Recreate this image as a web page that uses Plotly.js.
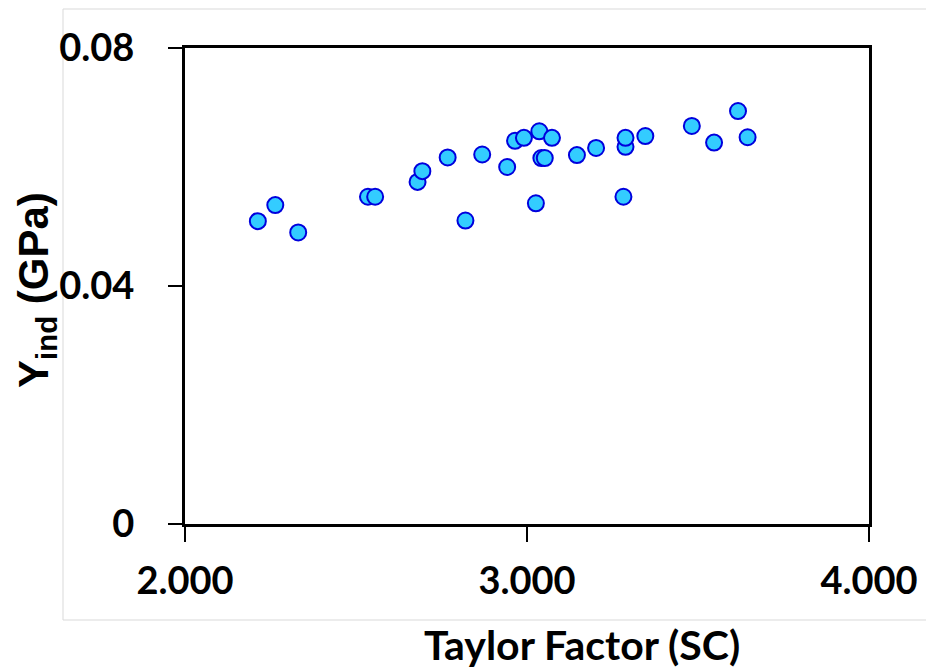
<!DOCTYPE html>
<html>
<head>
<meta charset="utf-8">
<script src="https://cdn.plot.ly/plotly-3.0.1.min.js"></script>
<style>
  html, body { margin: 0; padding: 0; background: #ffffff; }
  #chart { width: 926px; height: 671px; }
</style>
</head>
<body>
<div id="chart"></div>
<script>
// Taylor factor (single crystal) of each grain
const taylorFactor = [
  2.213, 2.264, 2.331, 2.535, 2.556, 2.680, 2.694, 2.768, 2.820, 2.869,
  2.942, 2.965, 2.991, 3.036, 3.026, 3.042, 3.052, 3.073, 3.146, 3.202,
  3.288, 3.288, 3.282, 3.346, 3.482, 3.547, 3.617, 3.645
];
// Indentation yield strength Y_ind (GPa) of each grain
const yieldInd = [
  0.0509, 0.0536, 0.0490, 0.0550, 0.0550, 0.0575, 0.0593, 0.0616, 0.0510, 0.0621,
  0.0600, 0.0644, 0.0649, 0.0660, 0.0539, 0.0615, 0.0615, 0.0649, 0.0620, 0.0632,
  0.0634, 0.0649, 0.0550, 0.0652, 0.0669, 0.0641, 0.0694, 0.0650
];
const xTicks = [2, 3, 4];
const yTicks = [0, 0.04, 0.08];

const labelFont = { family: 'Lato, "Open Sans", sans-serif', size: 38, color: '#000000', weight: 700 };

const trace = {
  type: 'scatter',
  mode: 'markers',
  x: taylorFactor,
  y: yieldInd,
  marker: {
    size: 16,
    color: '#33ccff',
    line: { color: '#0000dd', width: 2 }
  },
  hoverinfo: 'x+y'
};

const L = 185, R = 869, T = 48, B = 524;
const px2x = p => (p - L) / (R - L);
const px2y = p => (B - p) / (B - T);

const layout = {
  width: 926,
  height: 671,
  margin: { l: L, r: 926 - R, t: T, b: 671 - B, pad: 0 },
  paper_bgcolor: '#ffffff',
  plot_bgcolor: '#ffffff',
  showlegend: false,
  xaxis: {
    range: [2, 4],
    tickvals: xTicks,
    tickformat: '.3f',
    showgrid: false,
    zeroline: false,
    showline: true,
    linecolor: '#000000',
    linewidth: 3,
    mirror: true,
    ticks: 'outside',
    ticklen: 15,
    tickwidth: 2,
    tickcolor: '#000000',
    ticklabelstandoff: 6,
    tickfont: labelFont
  },
  yaxis: {
    range: [0, 0.08],
    tickvals: yTicks,
    showgrid: false,
    zeroline: false,
    showline: true,
    linecolor: '#000000',
    linewidth: 3,
    mirror: true,
    ticks: 'outside',
    ticklen: 14,
    tickwidth: 2,
    tickcolor: '#000000',
    ticklabelstandoff: 26,
    tickfont: labelFont
  },
  shapes: [{
    type: 'rect',
    xref: 'paper', yref: 'paper',
    x0: px2x(63), x1: px2x(1000),
    y0: px2y(620), y1: px2y(9),
    line: { color: '#d9d9d9', width: 1 },
    fillcolor: 'rgba(0,0,0,0)',
    layer: 'below'
  }],
  annotations: [
    {
      xref: 'paper', yref: 'paper',
      x: px2x(582), y: px2y(644),
      xanchor: 'center', yanchor: 'middle',
      showarrow: false,
      text: 'Taylor Factor (SC)',
      font: { family: 'Lato, "Open Sans", sans-serif', size: 41, color: '#000000', weight: 700 }
    },
    {
      xref: 'paper', yref: 'paper',
      x: px2x(36), y: px2y(290),
      xanchor: 'center', yanchor: 'middle',
      textangle: -90,
      showarrow: false,
      text: 'Y<sub>ind</sub> (GPa)',
      font: { family: '"Liberation Sans", Arial, sans-serif', size: 42, color: '#000000', weight: 700 }
    }
  ]
};

Plotly.newPlot('chart', [trace], layout, { displayModeBar: false, staticPlot: true });
</script>
</body>
</html>
